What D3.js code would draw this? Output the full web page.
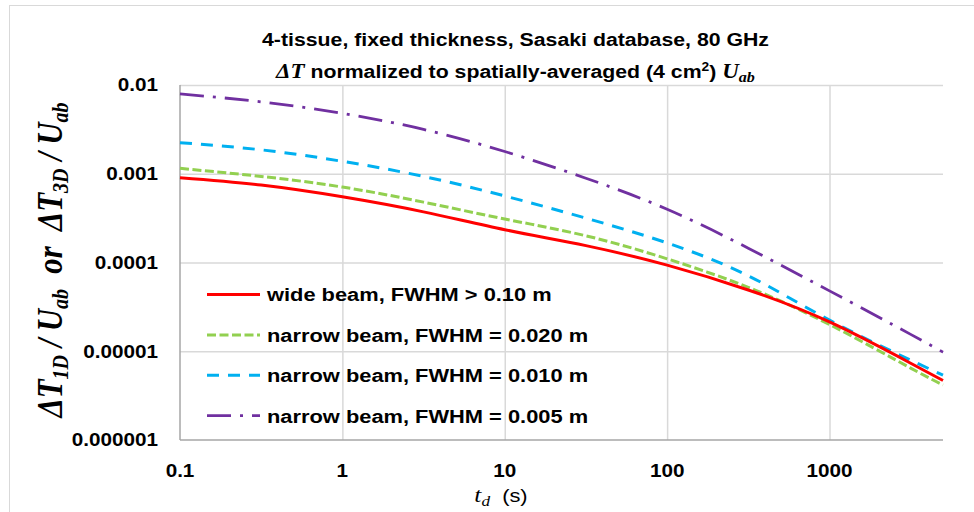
<!DOCTYPE html>
<html><head><meta charset="utf-8">
<script src="https://cdn.jsdelivr.net/npm/d3@7"></script>
<style>body{margin:0;background:#fff} svg{display:block}</style>
</head><body><svg id="c" width="974" height="512"></svg>
<script>
// ---- data ----
const timeS      = [0.1, 0.316, 1, 3.16, 10, 31.6, 100, 316, 1000, 3162, 5000];
const wideBeam   = [0.000902, 0.000746, 0.000550, 0.000372, 0.000234, 0.000155, 0.0000933, 0.0000490, 0.0000214, 0.00000733, 0.00000468];
const narrow020  = [0.00115, 0.000933, 0.000708, 0.000479, 0.000309, 0.000200, 0.000110, 0.0000525, 0.0000200, 0.00000646, 0.00000417];
const narrow010  = [0.00224, 0.00186, 0.00138, 0.000933, 0.000562, 0.000316, 0.000166, 0.0000708, 0.0000224, 0.00000794, 0.00000537];
const narrow005  = [0.00794, 0.00646, 0.00479, 0.00316, 0.00178, 0.000891, 0.000398, 0.000145, 0.0000479, 0.0000155, 0.00000977];
const seriesNames = ["wide beam, FWHM > 0.10 m", "narrow beam, FWHM = 0.020 m", "narrow beam, FWHM = 0.010 m", "narrow beam, FWHM = 0.005 m"];
const xTicks = [0.1, 1, 10, 100, 1000];
const xTickLabels = ["0.1", "1", "10", "100", "1000"];
const yTicks = [0.000001, 0.00001, 0.0001, 0.001, 0.01];
const yTickLabels = ["0.000001", "0.00001", "0.0001", "0.001", "0.01"];

// ---- styles ----
const seriesValues = [wideBeam, narrow020, narrow010, narrow005];
const colors = ["#ff0000", "#92d050", "#00b0f0", "#7030a0"];
const dashes = [null, "9,3.5", "12,9", "24,9,3,9"];
const widths = [3, 3, 3, 2.8];
const SX = 1.15;
const SANS = "'Liberation Sans', Arial, sans-serif";
const SERIF = "'Liberation Serif', 'DejaVu Serif', serif";

const svg = d3.select("#c");
svg.append("rect").attr("x", 9.5).attr("y", 5.5).attr("width", 1000).attr("height", 600)
  .attr("fill", "#fff").attr("stroke", "#d9d9d9").attr("stroke-width", 1);

const X = d3.scaleLog().domain([0.1, 5000]).range([180, 943]);
const Y = d3.scaleLog().domain([0.000001, 0.01]).range([440, 85]);

// gridlines via axes
const gx = svg.append("g").attr("transform", "translate(0,440)")
  .call(d3.axisBottom(X).tickValues(xTicks.slice(1)).tickSize(-355).tickFormat(""));
gx.select(".domain").remove();
gx.selectAll("line").attr("stroke", "#d9d9d9").attr("stroke-width", 1.5);

const gy = svg.append("g").attr("transform", "translate(180,0)")
  .call(d3.axisLeft(Y).tickValues(yTicks.slice(1)).tickSize(-763).tickFormat(""));
gy.select(".domain").remove();
gy.selectAll("line").attr("stroke", "#d9d9d9").attr("stroke-width", 1.5);

// axis lines
svg.append("line").attr("x1", X(0.1)).attr("x2", X(0.1)).attr("y1", Y(0.01)).attr("y2", Y(0.000001))
  .attr("stroke", "#a6a6a6").attr("stroke-width", 1.5);
svg.append("line").attr("x1", X(0.1)).attr("x2", X(5000)).attr("y1", Y(0.000001)).attr("y2", Y(0.000001))
  .attr("stroke", "#a6a6a6").attr("stroke-width", 1.5);

// tick labels
function stext(x, y, anchor, size, weight) {
  return svg.append("text").attr("transform", `translate(${x},${y}) scale(${SX},1)`)
    .attr("text-anchor", anchor).style("font-family", SANS).style("font-size", size + "px")
    .style("font-weight", weight).attr("fill", "#000");
}
yTicks.forEach((v, i) => stext(158, Y(v) + 6.3, "end", 18, "bold").text(yTickLabels[i]));
xTicks.forEach((v, i) => stext(X(v), 477, "middle", 18, "bold").text(xTickLabels[i]));

// series
const line = d3.line().x((d, i) => X(timeS[i])).y(d => Y(d)).curve(d3.curveNatural);
const plot = svg.append("g");
[0, 1, 2, 3].reverse().forEach(k => {
  plot.append("path").attr("d", line(seriesValues[k])).attr("fill", "none")
    .attr("stroke", colors[k]).attr("stroke-width", widths[k])
    .attr("stroke-dasharray", dashes[k]);
});

// legend
seriesNames.forEach((name, k) => {
  const y = 294.5 + k * 40.4;
  svg.append("line").attr("x1", 207).attr("x2", 260).attr("y1", y).attr("y2", y)
    .attr("stroke", colors[k]).attr("stroke-width", widths[k]).attr("stroke-dasharray", dashes[k]);
  stext(267, y + 6.8, "start", 19, "bold").text(name);
});

// title
stext(515.5, 46, "middle", 18.5, "bold").text("4-tissue, fixed thickness, Sasaki database, 80 GHz");
const t2 = stext(515.5, 78, "middle", 18.5, "bold").style("white-space", "pre");
t2.append("tspan").style("font-family", SERIF).style("font-style", "italic").style("font-size", "20px").text("ΔT");
t2.append("tspan").text(" normalized to spatially-averaged (4 cm");
t2.append("tspan").attr("dy", -7).style("font-size", "12px").text("2");
t2.append("tspan").attr("dy", 7).text(") ");
t2.append("tspan").style("font-family", SERIF).style("font-style", "italic").style("font-size", "20px").text("U");
t2.append("tspan").attr("dy", 4).style("font-family", SERIF).style("font-style", "italic").style("font-size", "14px").text("ab");

// x title
const xt = stext(501, 502, "middle", 19, "normal").style("white-space", "pre");
xt.append("tspan").style("font-family", SERIF).style("font-style", "italic").style("font-size", "22px").text("t");
xt.append("tspan").attr("dy", 4).style("font-family", SERIF).style("font-style", "italic").style("font-size", "15px").text("d");
xt.append("tspan").attr("dy", -4).text("  (s)");

// y title
const yt = svg.append("text").attr("transform", `translate(62,260) scale(${SX},1) rotate(-90)`)
  .attr("text-anchor", "middle").style("font-family", SERIF).style("font-style", "italic")
  .style("font-weight", "bold").style("font-size", "26px").style("white-space", "pre").attr("fill", "#000");
yt.append("tspan").text("ΔT");
yt.append("tspan").attr("dy", 5).style("font-size", "17px").text("1D");
yt.append("tspan").attr("dy", -5).text(" / U");
yt.append("tspan").attr("dy", 5).style("font-size", "17px").text("ab");
yt.append("tspan").attr("dy", -5).text("  or  ΔT");
yt.append("tspan").attr("dy", 5).style("font-size", "17px").text("3D");
yt.append("tspan").attr("dy", -5).text(" / U");
yt.append("tspan").attr("dy", 5).style("font-size", "17px").text("ab");
const len = yt.node().getComputedTextLength();
if (len > 0) {
  const f = 315 / len;
  yt.style("font-size", (26 * f) + "px");
  yt.selectAll("tspan").filter(function(){ return this.style.fontSize; })
    .style("font-size", (17 * f) + "px");
}
</script></body></html>
